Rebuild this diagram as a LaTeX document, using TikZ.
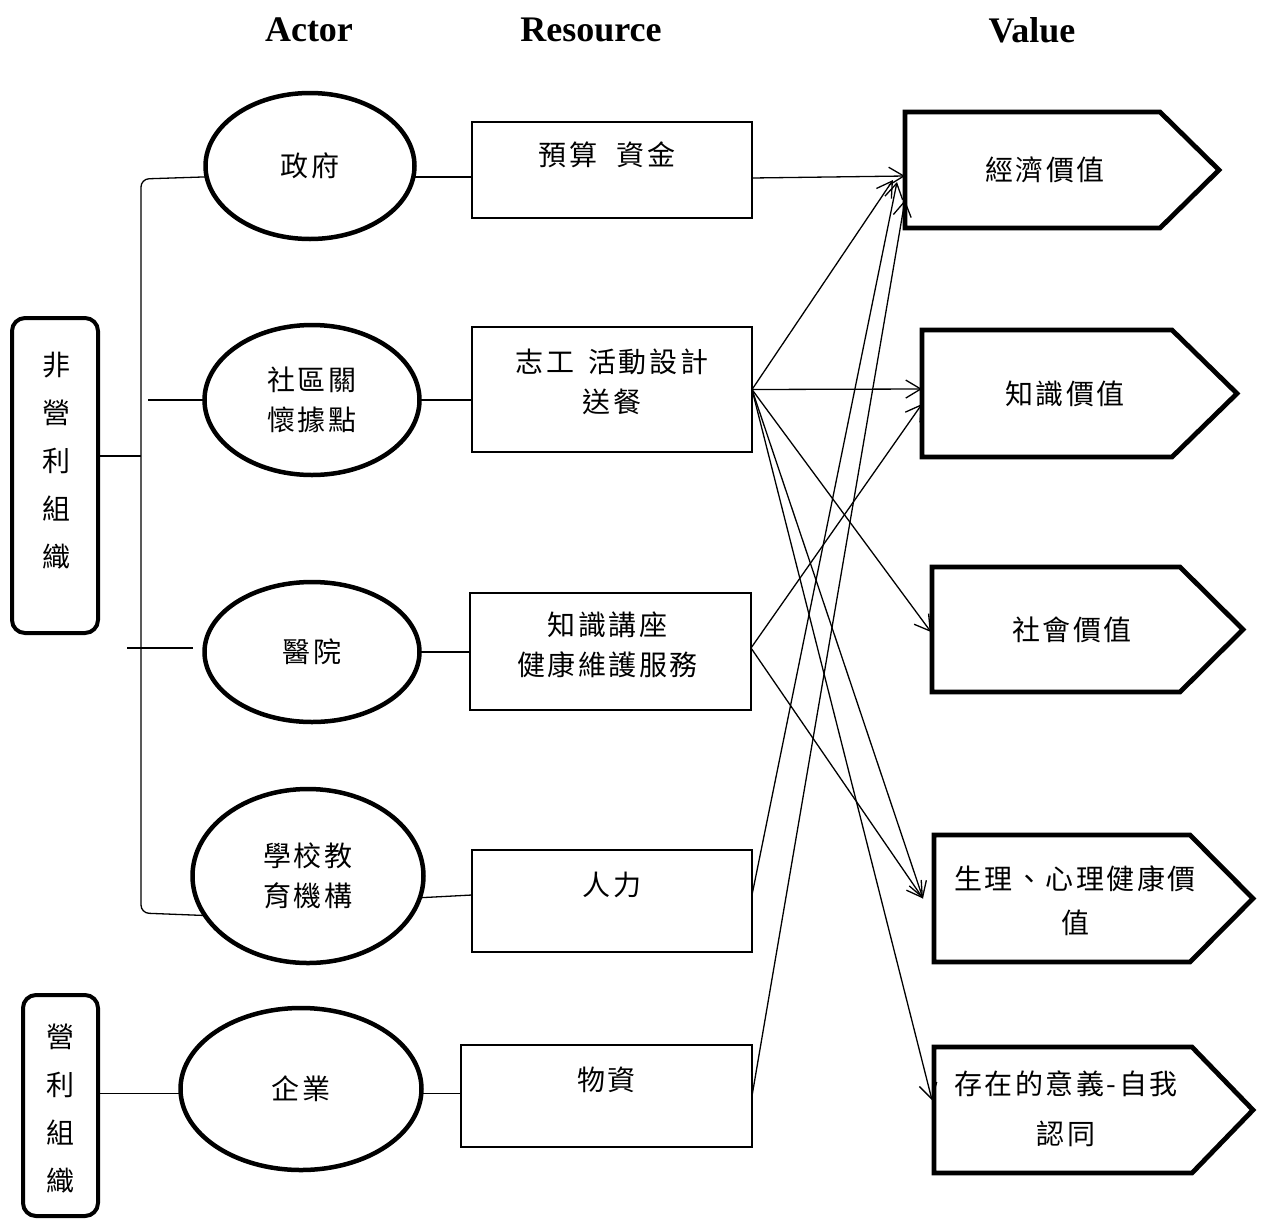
\documentclass[tikz,border=0pt]{standalone}
\usepackage{fontspec}
\setmainfont{Liberation Serif}
\newfontfamily\cjk[LetterSpace=9]{Noto Sans CJK TC}
\usetikzlibrary{arrows.meta,shapes.geometric}
\begin{document}
\begin{tikzpicture}[x=1pt,y=-1pt,
  every node/.style={inner sep=0pt, outer sep=0pt},
  cjkfont/.style={font=\cjk\fontsize{28}{40}\selectfont},
  actor/.style={ellipse, draw, line width=4.5pt, cjkfont, align=center},
  resbox/.style={rectangle, draw, line width=1.3pt},
  restext/.style={cjkfont, align=center},
  valbody/.style={rectangle, draw=none},
  valedge/.style={line width=4.8pt},
  orgbox/.style={rectangle, rounded corners=13pt, draw, line width=4pt},
  orgtext/.style={font=\cjk\fontsize{28}{48}\selectfont, align=center},
  link/.style={line width=1.3pt},
  arr/.style={line width=1.3pt, -{Straight Barb[length=15pt,width=18pt,line width=1.3pt]}},
  head/.style={font=\bfseries\fontsize{36}{40}\selectfont}
]
\fill[white] (0,0) rectangle (1261,1219);
\useasboundingbox (0,0) rectangle (1261,1219);

% headers
\node[head] (hA) at (309,30) {Actor};
\node[head] (hR) at (591,30) {Resource};
\node[head] (hV) at (1032,30) {Value};

% organisation boxes
\node[orgbox, minimum width=86pt, minimum height=315pt] (L1) at (55,475.5) {};
\node[orgtext] (L1t) at (56,461) {非\\營\\利\\組\\織};
\node[orgbox, minimum width=75pt, minimum height=221pt] (L2) at (60.5,1105.5) {};
\node[orgtext] (L2t) at (60,1109) {營\\利\\組\\織};

% actors
\node[actor, minimum width=209pt, minimum height=146pt] (e1) at (310,166) {政府};
\node[actor, minimum width=215pt, minimum height=150pt] (e2) at (312,400) {社區關\\懷據點};
\node[actor, minimum width=215pt, minimum height=140pt] (e3) at (312,652) {醫院};
\node[actor, minimum width=231pt, minimum height=174pt] (e4) at (308,876) {學校教\\育機構};
\node[actor, minimum width=241pt, minimum height=162pt] (e5) at (301,1089) {企業};

% resources
\node[resbox, minimum width=280pt, minimum height=96pt] (b1) at (612,170) {};
\node[resbox, minimum width=280pt, minimum height=125pt] (b2) at (612,389.5) {};
\node[resbox, minimum width=281pt, minimum height=117pt] (b3) at (610.5,651.5) {};
\node[resbox, minimum width=280pt, minimum height=102pt] (b4) at (612,901) {};
\node[resbox, minimum width=291pt, minimum height=102pt] (b5) at (606.5,1096) {};
\node[restext] (b1t) at ([shift={(-5,33)}]b1.north) {預算\hspace{0.7em}資金};
\node[restext] (b2t) at ([shift={(0,55)}]b2.north) {志工\hspace{0.5em}活動設計\\送餐};
\node[restext] (b3t) at ([shift={(-3,52)}]b3.north) {知識講座\\健康維護服務};
\node[restext] (b4t) at ([shift={(0,35)}]b4.north) {人力};
\node[restext] (b5t) at ([shift={(0,35)}]b5.north) {物資};

% values
\node[valbody, minimum width=255pt, minimum height=116pt] (v1) at (1032.5,170) {};
\node[valbody, minimum width=250pt, minimum height=127pt] (v2) at (1047,393.5) {};
\node[valbody, minimum width=248pt, minimum height=125pt] (v3) at (1056,629.5) {};
\node[valbody, minimum width=256pt, minimum height=127pt] (v4) at (1062,898.5) {};
\node[valbody, minimum width=258pt, minimum height=126pt] (v5) at (1063,1110) {};
\foreach \v/\t in {v1/59, v2/65, v3/63, v4/63, v5/61}
  \draw[valedge] (\v.north west) -- (\v.north east) -- ([shift={(\t,0)}]\v.east)
     -- (\v.south east) -- (\v.south west) -- cycle;
\node[cjkfont] (v1t) at ([shift={(12.5,0)}]v1.center) {經濟價值};
\node[cjkfont] (v2t) at ([shift={(18,0)}]v2.center) {知識價值};
\node[cjkfont] (v3t) at ([shift={(16,0)}]v3.center) {社會價值};
\node[font=\cjk\fontsize{28}{44}\selectfont, align=center] (v4t) at ([shift={(13,2)}]v4.center) {生理、心理健康價\\值};
\node[font=\cjk\fontsize{28}{50}\selectfont, align=center] (v5t) at ([shift={(3,-1)}]v5.center) {存在的意義-自我\\認同};

% spine / bracket
\draw[link, rounded corners=8pt] (e1.186) -- (141,179) -- (141,913) -- (e4.201);
\coordinate (br2) at (148,400);
\draw[link] (br2) -- (e2.west);
\coordinate (br3a) at (127,648);
\coordinate (br3b) at (193,648);
\draw[link] (br3a) -- (br3b);
\coordinate (sp) at (141,456);
\draw[link] ([shift={(0,-19.5)}]L1.east) -- (sp);
\draw[link] (e5.182 -| L2.east) -- (e5.182);

% actor to resource
\draw[link] (e1.-6) -- (e1.-6 -| b1.west);
\draw[link] (e2.east) -- (e2.east -| b2.west);
\draw[link] (e3.east) -- (e3.east -| b3.west);
\draw[link] (e4.-11) -- ([shift={(0,-6)}]b4.west);
\draw[link] (e5.-2) -- (e5.-2 -| b5.west);

% resource to value arrows
\draw[arr] ([shift={(0,8)}]b1.east) -- ([shift={(0,6)}]v1.west);
\draw[arr] (b2.east) -- ([shift={(-12,10)}]v1.west);
\draw[arr] ([shift={(0,-6)}]b4.east) -- ([shift={(-8,12)}]v1.west);
\draw[arr] (b5.east) -- ([shift={(0,30)}]v1.west);
\draw[arr] (b2.east) -- ([shift={(0,-4.5)}]v2.west);
\draw[arr] ([shift={(0,-3.5)}]b3.east) -- ([shift={(0,10.5)}]v2.west);
\draw[arr] (b2.east) -- ([shift={(-1,2.5)}]v3.west);
\draw[arr] (b2.east) -- ([shift={(-11,0)}]v4.west);
\draw[arr] ([shift={(0,-3.5)}]b3.east) -- ([shift={(-11,0)}]v4.west);
\draw[arr] (b2.east) -- ([shift={(-2,-10)}]v5.west);
\end{tikzpicture}
\end{document}
